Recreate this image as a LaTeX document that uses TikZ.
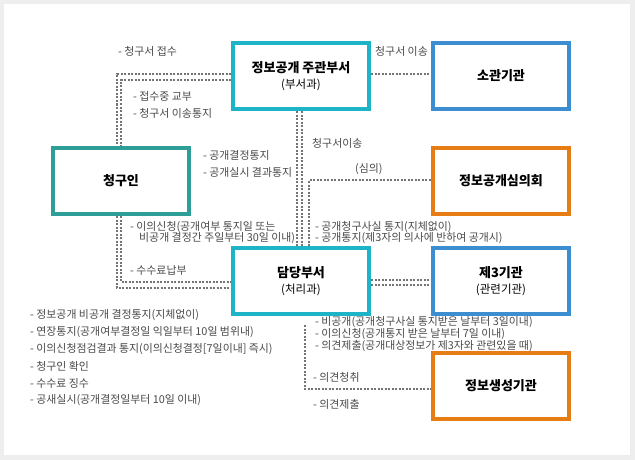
\documentclass[tikz,border=0pt]{standalone}
\usepackage{fontspec}
\setmainfont{Noto Sans CJK KR}
\usetikzlibrary{backgrounds}
\definecolor{cyanb}{HTML}{1CB4C6}
\definecolor{tealb}{HTML}{2E9E98}
\definecolor{blueb}{HTML}{3C8ED0}
\definecolor{orangeb}{HTML}{E67C14}
\definecolor{lbl}{HTML}{4A4A4A}
\definecolor{dotc}{HTML}{747474}
\definecolor{framec}{HTML}{EEEEEE}
\begin{document}
\begin{tikzpicture}[x=1pt,y=-1pt,
  box/.style={draw,line width=4pt,fill=white,minimum width=136pt,minimum height=66pt,
    inner sep=0pt,align=center,font=\fontsize{13}{16.5}\selectfont\bfseries},
  lb/.style={anchor=west,inner sep=0pt,text=lbl,font=\fontsize{10.9}{12}\selectfont},
  dl/.style={draw=dotc,line width=2pt,dash pattern=on 2pt off 1.5pt}]
\useasboundingbox (0,0) rectangle (635,460);
% boxes
\node[box,draw=cyanb] (jg) at (301,76) {정보공개 주관부서\\{\fontsize{11.5}{16}\selectfont\mdseries (부서과)}};
\node[box,draw=blueb] (sg) at (501,76) {소관기관};
\node[box,draw=tealb] (cq) at (121,181) {청구인};
\node[box,draw=orangeb] (sw) at (501,181) {정보공개심의회};
\node[box,draw=cyanb] (dd) at (301,281) {담당부서\\{\fontsize{11.5}{16}\selectfont\mdseries (처리과)}};
\node[box,draw=blueb] (j3) at (501,281) {제3기관\\{\fontsize{11.5}{16}\selectfont\mdseries (관련기관)}};
\node[box,draw=orangeb] (js) at (501,386) {정보생성기관};
\coordinate (ds) at (305,325);
% connectors
\begin{scope}[on background layer]
\fill[framec] (0,0) rectangle (635,460);
\fill[white] (4,4) rectangle (630,455);
\draw[dl] ([yshift=2pt]jg.west) -| ([xshift=-4pt]cq.north);
\draw[dl] ([yshift=-4pt]jg.west) -| (cq.north);
\draw[dl] ([yshift=2pt]jg.east) -- ([yshift=2pt]sg.west);
\draw[dl] ([xshift=-4pt]jg.south) -- ([xshift=-4pt]dd.north);
\draw[dl] ([xshift=1pt]jg.south) -- ([xshift=1pt]dd.north);
\draw[dl] ([xshift=8pt]dd.north) |- ([yshift=1pt]sw.west);
\draw[dl] ([xshift=-4pt]cq.south) |- ([yshift=-7pt]dd.west);
\draw[dl] (cq.south) |- ([yshift=-1pt]dd.west);
\draw[dl] ([yshift=1pt]dd.east) -- ([yshift=1pt]j3.west);
\draw[dl] ([yshift=-4pt]dd.east) -- ([yshift=-4pt]j3.west);
\draw[dl] (ds) |- ([yshift=-3pt]js.west);
\end{scope}
% labels
\node[lb] (l1) at (118,51) {- 청구서 접수};
\node[lb] (l2) at (375,51) {청구서 이송};
\node[lb] (l3) at (133,96) {- 접수중 교부};
\node[lb] (l4) at (133,113) {- 청구서 이송통지};
\node[lb] (l5) at (203,155) {- 공개결정통지};
\node[lb] (l6) at (203,172) {- 공개실시 결과통지};
\node[lb] (l7) at (312,143) {청구서이송};
\node[lb] (l8) at (355,169) {(심의)};
\node[lb] (l9) at (315,227) {- 공개청구사실 통지(지체없이)};
\node[lb] (l10) at (315,238) {- 공개통지(제3자의 의사에 반하여 공개시)};
\node[lb] (l11) at (130,227) {- 이의신청(공개여부 통지일 또는};
\node[lb] (l12) at (139,238) {비공개 결정간 주일부터 30일 이내)};
\node[lb] (l13) at (130,270) {- 수수료납부};
\node[lb] (l14) at (315,322) {- 비공개(공개청구사실 통지받은 날부터 3일이내)};
\node[lb] (l15) at (315,334) {- 이의신청(공개통지 받은 날부터 7일 이내)};
\node[lb] (l16) at (315,346) {- 의견제출(공개대상정보가 제3자와 관련있을 때)};
\node[lb] (l17) at (313,377) {- 의견청취};
\node[lb] (l18) at (313,404) {- 의견제출};
\node[lb] (m1) at (30,315) {- 정보공개 비공개 결정통지(지체없이)};
\node[lb] (m2) at (30,332) {- 연장통지(공개여부결정일 익일부터 10일 범위내)};
\node[lb] (m3) at (30,349) {- 이의신청점검결과 통지(이의신청결정[7일이내] 즉시)};
\node[lb] (m4) at (30,366) {- 청구인 확인};
\node[lb] (m5) at (30,383) {- 수수료 징수};
\node[lb] (m6) at (30,400) {- 공새실시(공개결정일부터 10일 이내)};
\end{tikzpicture}
\end{document}
